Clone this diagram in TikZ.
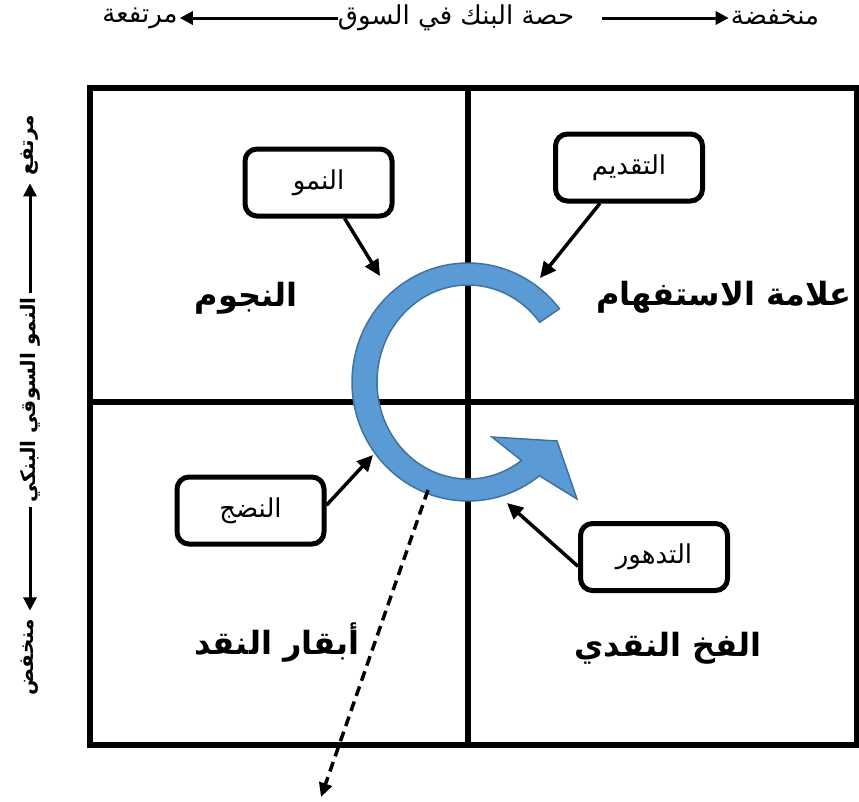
\documentclass[tikz,border=0pt]{standalone}
\usepackage{fontspec}
\newfontfamily\ar[Script=Arabic]{DejaVu Sans}
\TeXXeTstate=1
\usetikzlibrary{arrows.meta}
\definecolor{cycfill}{HTML}{5B9BD5}
\definecolor{cycline}{HTML}{41719C}
\newcommand{\rl}[1]{\beginR #1\endR}

\begin{document}
\begin{tikzpicture}[x=1pt,y=-1pt,
  every node/.style={inner sep=0pt},
  stage/.style={draw, line width=5pt, rounded corners=12pt, minimum width=147pt,
    minimum height=67pt, font=\ar\fontsize{26}{28}\selectfont},
  quad/.style={font=\ar\bfseries\fontsize{32}{36}\selectfont},
  axis/.style={font=\ar\fontsize{26}{28}\selectfont},
  vaxis/.style={font=\ar\bfseries\fontsize{20}{22}\selectfont, rotate=90},
  pointer/.style={line width=3.5pt, -{Triangle[length=16pt,width=15pt]}},
  axisarrow/.style={line width=3pt, -{Triangle[length=13pt,width=13pt]}},
  grid/.style={line width=5.5pt}]

\useasboundingbox (0,0) rectangle (859,801);

% matrix frame and dividers
\draw[grid] (90,88) rectangle (857,745);
\draw[grid] (468,88) -- (468,745);
\draw[grid] (90,402) -- (857,402);

% life-cycle arrow
\filldraw[fill=cycfill, draw=cycline, line width=1.5pt]
  (468,382) ++(-38:116 and 119)
  arc[start angle=-38, end angle=-308, x radius=116, y radius=119]
  -- (577,499) -- (557,441) -- (492,437) -- (521.5,460.5)
  arc[start angle=-306, end angle=-38, x radius=91, y radius=97] -- cycle;

% points on the cycle
\coordinate (tipgrow) at (380,276);
\coordinate (tipintro) at (540,278);
\coordinate (tipmat) at (373,455);
\coordinate (tipdec) at (507,503);
\coordinate (dashstart) at (428,490);
\coordinate (dashend) at (321,797);

% quadrant names
\node[quad] (stars) at (246,298) {\rl{النجوم}};
\node[quad] (question) at (724,297) {\rl{علامة الاستفهام}};
\node[quad] (cows) at (277,643) {\rl{أبقار النقد}};
\node[quad] (trap) at (668,648) {\rl{الفخ النقدي}};

% stage boxes
\node[stage] (grow) at (318.5,182.5) {\rl{النمو}};
\node[stage] (intro) at (629,167.5) {\rl{التقديم}};
\node[stage] (mature) at (250.5,510.5) {\rl{النضج}};
\node[stage] (decline) at (654,557) {\rl{التدهور}};

\draw[pointer] (grow.-54) -- (tipgrow);
\draw[pointer] (intro.231) -- (tipintro);
\draw[pointer] (mature.4) -- (tipmat);
\draw[pointer] (decline.187) -- (tipdec);

\draw[line width=3.5pt, dash pattern=on 10pt off 6pt,
  -{Triangle[length=14pt,width=13pt]}] (dashstart) -- (dashend);

% horizontal axis
\node[axis] (hi) at (140,18) {\rl{مرتفعة}};
\node[axis] (share) at (456,18) {\rl{حصة البنك في السوق}};
\node[axis] (lo) at (775,18) {\rl{منخفضة}};
\draw[axisarrow, shorten >=2pt] (share.west) -- (hi.east);
\draw[axisarrow, shorten >=2pt] ([xshift=28pt]share.east) -- (lo.west);

% vertical axis
\node[vaxis] (vhi) at (30,145) {\rl{مرتفع}};
\node[vaxis] (vgrowth) at (30,400) {\rl{النمو السوقي البنكي}};
\node[vaxis] (vlo) at (30,657) {\rl{منخفض}};
\draw[axisarrow, shorten <=4pt, shorten >=8pt] (vgrowth.east) -- (vhi.west);
\draw[axisarrow, shorten <=4pt, shorten >=8pt] (vgrowth.west) -- (vlo.east);
\end{tikzpicture}
\end{document}
